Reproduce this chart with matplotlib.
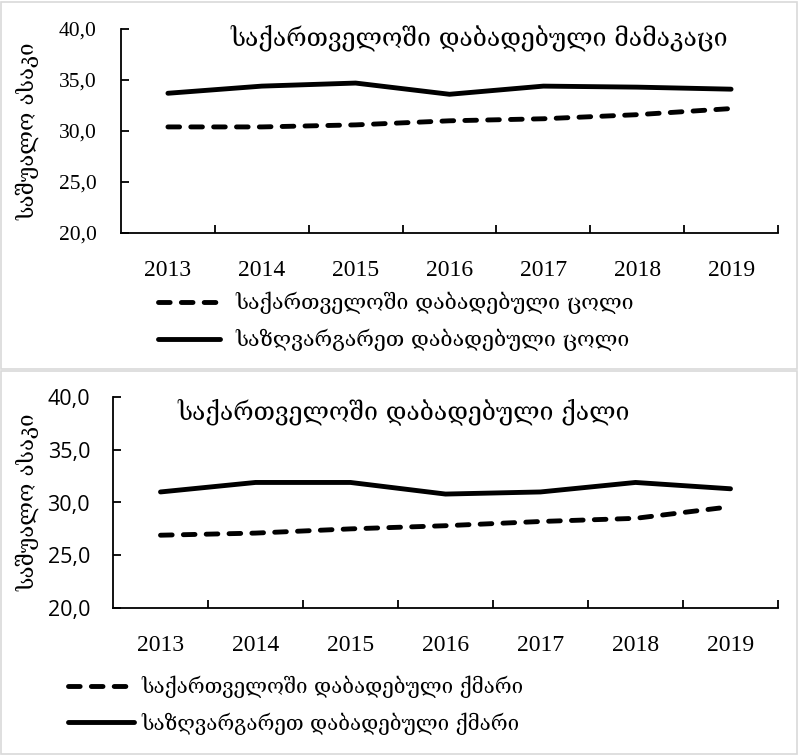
import numpy as np
import matplotlib.pyplot as plt
from matplotlib.patches import Rectangle
from matplotlib.ticker import FixedLocator

years = ['2013', '2014', '2015', '2016', '2017', '2018', '2019']

# men born in Georgia: age of wife (top panel)
wife_geo = [30.4, 30.4, 30.6, 31.0, 31.2, 31.6, 32.2]
wife_abroad = [33.7, 34.4, 34.7, 33.6, 34.4, 34.3, 34.1]
# women born in Georgia: age of husband (bottom panel)
husb_geo = [26.9, 27.1, 27.5, 27.8, 28.2, 28.5, 29.6]
husb_abroad = [31.0, 31.9, 31.9, 30.8, 31.0, 31.9, 31.3]

title_top = 'საქართველოში დაბადებული მამაკაცი'
title_bot = 'საქართველოში დაბადებული ქალი'
ylabel = 'საშუალო ასაკი'
leg_top = ['საქართველოში დაბადებული ცოლი', 'საზღვარგარეთ დაბადებული ცოლი']
leg_bot = ['საქართველოში დაბადებული ქმარი', 'საზღვარგარეთ დაბადებული ქმარი']

W, H = 801, 756
geo_font = ['DejaVu Serif']
serif = ['Liberation Serif', 'DejaVu Serif']
sans = ['Open Sans', 'DejaVu Sans']

fig = plt.figure(figsize=(W / 100, H / 100), dpi=100)


def px_box(l, t, r, b):
    return [l / W, 1 - b / H, (r - l) / W, (b - t) / H]


# panel borders
for (l, t, r, b) in [(1, 2, 797, 369), (1, 371, 797, 754)]:
    fig.patches.append(Rectangle((l / W, 1 - b / H), (r - l) / W, (b - t) / H,
                                 transform=fig.transFigure, fill=False,
                                 edgecolor='#d9d9d9', lw=1.2))


def panel(box, geo, abroad, title, title_xy, labels, leg, yfont, ypad, xpad):
    ax = fig.add_axes(px_box(*box))
    x = np.arange(len(years))
    l1, = ax.plot(x, geo, color='black', lw=3.5, ls=(0, (2.4, 2.3)),
                  dash_capstyle='round', solid_capstyle='round')
    l2, = ax.plot(x, abroad, color='black', lw=3.5, solid_capstyle='round')
    ax.set_xlim(-0.5, 6.5)
    ax.set_ylim(20, 40)
    ax.set_yticks([20, 25, 30, 35, 40])
    ax.set_yticklabels(['20,0', '25,0', '30,0', '35,0', '40,0'], family=yfont, fontsize=15.5)
    ax.set_xticks(x)
    ax.set_xticklabels(years, family=serif, fontsize=17)
    ax.xaxis.set_minor_locator(FixedLocator(np.arange(0.5, 7, 1.0)))
    ax.tick_params(axis='x', which='major', length=0, pad=xpad)
    ax.tick_params(axis='x', which='minor', direction='in', length=6, width=1.3)
    ax.tick_params(axis='y', direction='in', length=6, width=1.3, pad=ypad)
    for s in ['top', 'right']:
        ax.spines[s].set_visible(False)
    for s in ['left', 'bottom']:
        ax.spines[s].set_linewidth(1.3)
    yc = (box[1] + box[3]) / 2
    fig.text(28 / W, 1 - yc / H, ylabel, family=geo_font, fontsize=16,
             rotation=90, ha='center', va='center')
    fig.text(title_xy[0] / W, 1 - title_xy[1] / H, title, family=geo_font,
             fontsize=17.8, ha='center', va='center')
    fig.legend([l1, l2], labels, loc='center left',
               bbox_to_anchor=(leg[0] / W, 1 - leg[1] / H),
               frameon=False, prop={'family': geo_font, 'size': leg[2]},
               handlelength=leg[3], handletextpad=leg[4], labelspacing=0.7,
               borderpad=0, borderaxespad=0)
    return ax


panel((121, 29, 778, 233), wife_geo, wife_abroad, title_top, (479, 38),
      leg_top, (158, 321.5, 15.4, 2.9, 0.7), serif, 17.5, 19.5)
panel((113, 397, 778, 608), husb_geo, husb_abroad, title_bot, (404, 412),
      leg_bot, (68, 705, 14.8, 3.2, 0.37), sans, 16.5, 19.5)

fig.savefig('out.png', dpi=100)
